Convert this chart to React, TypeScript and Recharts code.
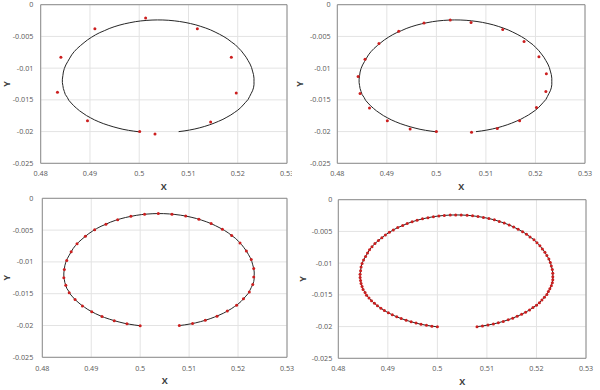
import React from 'react';
import { ScatterChart, Scatter, XAxis, YAxis, CartesianGrid, ReferenceArea } from 'recharts';

type Pt = [number, number];

const xTicks = [0.48, 0.49, 0.5, 0.51, 0.52, 0.53];
const yTicks = [0, -0.005, -0.01, -0.015, -0.02, -0.025];

// 10 steps
const steps10: Pt[] = [
  [0.5001, -0.0200], [0.4895, -0.0183], [0.4834, -0.0138], [0.4841, -0.0083],
  [0.4910, -0.0038], [0.5013, -0.0021], [0.5118, -0.0038], [0.5187, -0.0083],
  [0.5197, -0.0139], [0.5145, -0.0185], [0.5032, -0.0204],
];

// 20 steps
const steps20: Pt[] = [
  [0.5000, -0.0200], [0.4947, -0.0196], [0.4901, -0.0183], [0.4865, -0.0163],
  [0.4846, -0.0140], [0.4842, -0.0113], [0.4856, -0.0086], [0.4884, -0.0061],
  [0.4924, -0.0042], [0.4975, -0.0029], [0.5028, -0.0024], [0.5070, -0.0028],
  [0.5134, -0.0039], [0.5177, -0.0058], [0.5207, -0.0082], [0.5222, -0.0109],
  [0.5221, -0.0137], [0.5202, -0.0162], [0.5168, -0.0183], [0.5123, -0.0195],
  [0.5071, -0.0201],
];

// 40 steps
const steps40: Pt[] = [
  [0.5000, -0.02004], [0.4973, -0.01972], [0.4947, -0.01924], [0.4922, -0.01860],
  [0.4901, -0.01782], [0.4882, -0.01692], [0.4867, -0.01592], [0.4855, -0.01484],
  [0.4848, -0.01369], [0.4844, -0.01251], [0.4845, -0.01118], [0.4850, -0.00977],
  [0.4859, -0.00842], [0.4871, -0.00715], [0.4888, -0.00598], [0.4907, -0.00495],
  [0.4930, -0.00407], [0.4954, -0.00336], [0.4981, -0.00284], [0.5009, -0.00252],
  [0.5037, -0.00240], [0.5065, -0.00249], [0.5093, -0.00279], [0.5120, -0.00329],
  [0.5145, -0.00398], [0.5168, -0.00485], [0.5187, -0.00586], [0.5204, -0.00702],
  [0.5217, -0.00828], [0.5227, -0.00963], [0.5232, -0.01102], [0.5232, -0.01239],
  [0.5230, -0.01357], [0.5223, -0.01472], [0.5211, -0.01581], [0.5197, -0.01682],
  [0.5178, -0.01773], [0.5157, -0.01853], [0.5133, -0.01918], [0.5107, -0.01968],
  [0.5080, -0.02001],
];

// 100 steps
const steps100: Pt[] = [
  [0.5000, -0.02004], [0.4989, -0.01993], [0.4978, -0.01980], [0.4967, -0.01964],
  [0.4957, -0.01945], [0.4947, -0.01924], [0.4937, -0.01900], [0.4927, -0.01874],
  [0.4918, -0.01846], [0.4909, -0.01815], [0.4901, -0.01782], [0.4893, -0.01748],
  [0.4886, -0.01711], [0.4879, -0.01673], [0.4873, -0.01634], [0.4867, -0.01592],
  [0.4862, -0.01550], [0.4857, -0.01506], [0.4854, -0.01461], [0.4850, -0.01416],
  [0.4848, -0.01369], [0.4846, -0.01322], [0.4845, -0.01275], [0.4844, -0.01228],
  [0.4844, -0.01174], [0.4845, -0.01118], [0.4846, -0.01061], [0.4848, -0.01005],
  [0.4851, -0.00950], [0.4855, -0.00895], [0.4859, -0.00842], [0.4863, -0.00790],
  [0.4868, -0.00740], [0.4874, -0.00691], [0.4881, -0.00643], [0.4888, -0.00598],
  [0.4895, -0.00555], [0.4903, -0.00514], [0.4911, -0.00476], [0.4920, -0.00440],
  [0.4930, -0.00407], [0.4939, -0.00376], [0.4949, -0.00348], [0.4959, -0.00324],
  [0.4970, -0.00302], [0.4981, -0.00284], [0.4992, -0.00268], [0.5003, -0.00256],
  [0.5014, -0.00248], [0.5026, -0.00242], [0.5037, -0.00240], [0.5048, -0.00241],
  [0.5060, -0.00246], [0.5071, -0.00254], [0.5082, -0.00265], [0.5093, -0.00279],
  [0.5104, -0.00297], [0.5115, -0.00318], [0.5125, -0.00342], [0.5135, -0.00368],
  [0.5145, -0.00398], [0.5154, -0.00431], [0.5163, -0.00466], [0.5172, -0.00504],
  [0.5180, -0.00544], [0.5187, -0.00586], [0.5195, -0.00631], [0.5201, -0.00678],
  [0.5207, -0.00726], [0.5212, -0.00776], [0.5217, -0.00828], [0.5221, -0.00881],
  [0.5225, -0.00935], [0.5228, -0.00990], [0.5230, -0.01046], [0.5232, -0.01102],
  [0.5233, -0.01159], [0.5233, -0.01215], [0.5233, -0.01262], [0.5232, -0.01310],
  [0.5230, -0.01357], [0.5227, -0.01403], [0.5224, -0.01449], [0.5221, -0.01494],
  [0.5216, -0.01538], [0.5211, -0.01581], [0.5206, -0.01623], [0.5200, -0.01663],
  [0.5193, -0.01701], [0.5186, -0.01738], [0.5178, -0.01773], [0.5170, -0.01807],
  [0.5161, -0.01838], [0.5152, -0.01867], [0.5143, -0.01893], [0.5133, -0.01918],
  [0.5123, -0.01940], [0.5113, -0.01959], [0.5102, -0.01976], [0.5091, -0.01990],
  [0.5080, -0.02001],
];

// the exact solution, the fine points sit on it
const exactCurve = steps100;

const toXY = (pts: Pt[]) => pts.map(([x, y]) => ({ x, y }));

const FONT = '"Open Sans", sans-serif';
const TICK = { fontSize: 7.2, fill: '#595959', fontFamily: FONT };

const redDot = (p: any) => <circle cx={p.cx} cy={p.cy} r={1.5} fill="#cc1f1f" />;
const noDot = () => <g />;

const XTitle = ({ viewBox, dy }: any) => {
  const cx = viewBox.x + viewBox.width / 2;
  return (
    <text x={cx} y={viewBox.y + dy} textAnchor="middle" dominantBaseline="central"
      fontSize={9} fontWeight="bold" fill="#404040" fontFamily={FONT}>X</text>
  );
};

const YTitle = ({ viewBox, cx }: any) => {
  const cy = viewBox.y + viewBox.height / 2;
  return (
    <text x={cx} y={cy} transform={`rotate(-90 ${cx} ${cy})`} textAnchor="middle"
      dominantBaseline="central" fontSize={9} fontWeight="bold" fill="#404040" fontFamily={FONT}>Y</text>
  );
};

type PanelProps = {
  left: number;
  top: number;
  width: number;
  height: number;
  bg: string;
  points: Pt[];
  mTop: number;
  mRight: number;
  yWidth: number;
  xHeight: number;
  yGap: number;
  xGap: number;
  yTitleX: number;
};

const Panel = ({ left, top, width, height, bg, points, mTop, mRight, yWidth, xHeight, yGap, xGap, yTitleX }: PanelProps) => (
  <div style={{ position: 'absolute', left, top, width, height, background: bg }}>
    <ScatterChart width={width} height={height} margin={{ top: mTop, right: mRight, left: 0, bottom: 0 }}>
      <CartesianGrid stroke="#e3e3e3" />
      <XAxis
        type="number"
        dataKey="x"
        domain={[0.48, 0.53]}
        ticks={xTicks}
        interval={0}
        allowDataOverflow
        axisLine={false}
        tickLine={false}
        tickSize={xGap - 2}
        tickMargin={2}
        height={xHeight}
        tick={TICK}
        label={<XTitle dy={23.4} />}
      />
      <YAxis
        type="number"
        dataKey="y"
        domain={[-0.025, 0]}
        ticks={yTicks}
        interval={0}
        allowDataOverflow
        axisLine={false}
        tickLine={false}
        tickSize={yGap - 2}
        tickMargin={2}
        width={yWidth}
        tick={TICK}
        label={<YTitle cx={yTitleX} />}
      />
      <ReferenceArea x1={0.48} x2={0.53} y1={-0.025} y2={0} fill="none" stroke="#8c8c8c" strokeWidth={1} ifOverflow="visible" />
      <Scatter data={toXY(exactCurve)} line={{ stroke: '#262626', strokeWidth: 1 }} shape={noDot} isAnimationActive={false} />
      <Scatter data={toXY(points)} shape={redDot} isAnimationActive={false} />
    </ScatterChart>
  </div>
);

export default function App() {
  return (
    <div style={{ position: 'absolute', left: 0, top: 0, width: 600, height: 390, background: '#fff', overflow: 'hidden' }}>
      <Panel left={0} top={0} width={292} height={195} bg="transparent" points={steps10} mTop={4.7} mRight={5} yWidth={40.7} xHeight={31.7} yGap={7.3} xGap={8} yTitleX={6.3} />
      <Panel left={292} top={0} width={308} height={195} bg="#fff" points={steps20} mTop={4.7} mRight={15} yWidth={45.3} xHeight={31.7} yGap={6.6} xGap={8} yTitleX={7.7} />
      <Panel left={0} top={189} width={296} height={201} bg="transparent" points={steps40} mTop={9.3} mRight={9} yWidth={42.3} xHeight={32.7} yGap={9} xGap={8.5} yTitleX={6.3} />
      <Panel left={296} top={189} width={304} height={201} bg="transparent" points={steps100} mTop={10.7} mRight={14} yWidth={42.3} xHeight={31.7} yGap={6} xGap={8} yTitleX={6.3} />
    </div>
  );
}
